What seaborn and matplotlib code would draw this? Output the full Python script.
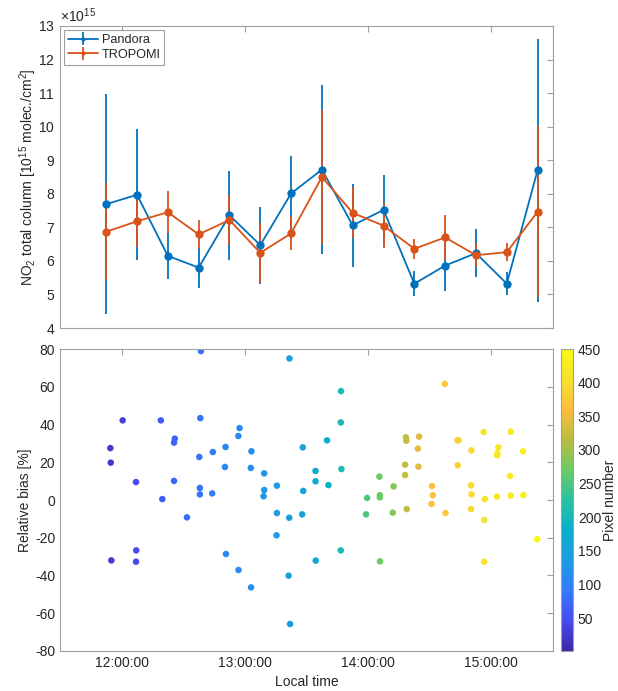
import numpy as np
import pandas as pd
import seaborn as sns
import matplotlib
matplotlib.use("Agg")
from matplotlib import pyplot as plt
import matplotlib.dates as mdates
from matplotlib.colors import LinearSegmentedColormap, Normalize
from matplotlib.ticker import ScalarFormatter

# top panel: means with std (1e15 molec/cm2)
top_times = ["11:52:30", "12:07:30", "12:22:30", "12:37:30", "12:52:30",
             "13:07:30", "13:22:30", "13:37:30", "13:52:30", "14:07:30",
             "14:22:30", "14:37:30", "14:52:30", "15:07:30", "15:22:30"]
pandora = [7.69, 7.97, 6.15, 5.80, 7.36, 6.47, 8.01, 8.72, 7.06, 7.52,
           5.32, 5.86, 6.23, 5.32, 8.70]
pandora_err = [3.27, 1.95, 0.68, 0.60, 1.32, 1.15, 1.13, 2.51, 1.24, 1.05,
               0.38, 0.75, 0.71, 0.35, 3.92]
tropomi = [6.87, 7.18, 7.45, 6.79, 7.22, 6.24, 6.82, 8.50, 7.43, 7.05,
           6.36, 6.70, 6.17, 6.26, 7.46]
tropomi_err = [1.44, 0.77, 0.63, 0.43, 0.75, 0.90, 0.51, 2.00, 0.76, 0.67,
               0.29, 0.66, 0.35, 0.27, 2.55]

# bottom panel: relative bias per pixel
bias_times = ["11:54:30", "11:54:42", "11:55:00", "12:00:30", "12:07:00", "12:07:06", "12:07:00",
              "12:19:06", "12:19:48", "12:25:30", "12:25:54", "12:25:30", "12:31:48",
              "12:37:48", "12:38:18", "12:38:36", "12:38:06", "12:38:06", "12:44:24", "12:44:06",
              "12:50:36", "12:50:18", "12:50:48", "12:56:48", "12:57:24", "12:56:54",
              "13:03:12", "13:02:54", "13:03:00", "13:09:24", "13:09:24", "13:09:06",
              "13:15:36", "13:15:36", "13:15:24", "13:21:42", "13:21:36", "13:21:18", "13:22:00",
              "13:28:12", "13:28:24", "13:27:54", "13:34:24", "13:34:24", "13:34:30",
              "13:40:00", "13:40:42", "13:46:48", "13:46:42", "13:47:00", "13:46:42",
              "13:59:30", "13:59:00", "14:05:30", "14:05:42", "14:05:42", "14:05:48",
              "14:12:24", "14:12:00", "14:18:24", "14:18:36", "14:18:00", "14:18:00", "14:18:48",
              "14:24:48", "14:24:12", "14:24:30", "14:31:06", "14:31:30", "14:30:54",
              "14:37:18", "14:37:42", "14:43:30", "14:44:00", "14:43:36",
              "14:50:18", "14:50:06", "14:50:24", "14:50:06",
              "14:56:12", "14:56:48", "14:56:30", "14:56:30",
              "15:03:24", "15:02:48", "15:02:54", "15:02:42",
              "15:09:24", "15:09:06", "15:09:24", "15:15:24", "15:15:36", "15:22:18"]
bias = [27.5, 19.8, -32.0, 42.2, 9.5, -26.7, -32.7,
        42.2, 0.5, 30.4, 32.5, 10.1, -9.2,
        22.8, 43.4, 78.9, 6.4, 3.0, 25.4, 3.5,
        28.1, 17.5, -28.6, 33.9, 38.1, -37.1,
        25.8, 17.0, -46.3, 14.1, 5.3, 2.0,
        7.6, -6.9, -18.7, 75.0, -9.4, -40.1, -65.7,
        27.9, 4.8, -7.6, 15.4, 9.9, -32.1,
        31.6, 7.9, 57.7, 41.1, 16.4, -26.7,
        1.1, -7.6, 12.4, 2.6, 1.4, -32.5,
        7.2, -6.7, 33.2, 31.4, 18.7, 13.2, -4.8,
        33.6, 27.2, 17.7, 7.4, 2.5, -2.1,
        61.5, -6.9, 31.6, 31.6, 18.4,
        26.3, 7.8, 3.0, -4.8,
        36.0, 0.5, -10.6, -32.7,
        27.9, 23.7, 24.8, 1.8,
        36.2, 12.7, 2.3, 25.8, 2.6, -20.8]
pixel = [25, 25, 27, 35, 45, 45, 45,
         62, 62, 70, 70, 70, 78,
         85, 85, 85, 85, 85, 95, 95,
         105, 105, 105, 112, 112, 112,
         120, 120, 120, 128, 128, 128,
         137, 137, 137, 145, 145, 145, 145,
         155, 155, 155, 168, 168, 168,
         180, 180, 205, 205, 205, 205,
         250, 250, 268, 268, 268, 268,
         285, 285, 320, 320, 320, 320, 320,
         340, 340, 340, 365, 365, 365,
         378, 378, 385, 385, 385,
         396, 396, 396, 396,
         408, 408, 408, 408,
         418, 418, 418, 418,
         425, 425, 425, 432, 432, 445]

day = "2019-06-01 "
top = pd.DataFrame({"time": pd.to_datetime([day + t for t in top_times]),
                    "pandora": np.array(pandora) * 1e15,
                    "pandora_err": np.array(pandora_err) * 1e15,
                    "tropomi": np.array(tropomi) * 1e15,
                    "tropomi_err": np.array(tropomi_err) * 1e15})
bot = pd.DataFrame({"time": pd.to_datetime([day + t for t in bias_times]),
                    "bias": bias, "pixel": pixel})

# parula-like colormap
parula = LinearSegmentedColormap.from_list("parula", [
    (0.2422, 0.1504, 0.6603), (0.2780, 0.2950, 0.9450), (0.2000, 0.4800, 0.9900),
    (0.1150, 0.6100, 0.8900), (0.0250, 0.6900, 0.8000), (0.1600, 0.7600, 0.6300),
    (0.4200, 0.8000, 0.3900), (0.7300, 0.7400, 0.2500), (0.9900, 0.7400, 0.2400),
    (0.9700, 0.8800, 0.1800), (0.9763, 0.9831, 0.0538)])

sns.set_style("white")
plt.rcParams["font.family"] = ["Liberation Sans", "DejaVu Sans"]
plt.rcParams["font.size"] = 10
plt.rcParams["axes.unicode_minus"] = False
plt.rcParams["mathtext.fontset"] = "custom"
plt.rcParams["mathtext.rm"] = "Liberation Sans"
plt.rcParams["mathtext.it"] = "Liberation Sans:italic"

EDGE = "#a0a0a0"
TXT = "#262626"
BLUE = (0, 0.447, 0.741)
ORANGE = (0.85, 0.325, 0.098)

fig = plt.figure(figsize=(6.18, 6.91), dpi=100)
ax1 = fig.add_axes([0.0971, 0.5253, 0.7977, 0.4371])
ax2 = fig.add_axes([0.0971, 0.0579, 0.7977, 0.4370])
cax = fig.add_axes([0.9078, 0.0579, 0.0194, 0.4370])

ax1.errorbar(top["time"], top["pandora"], yerr=top["pandora_err"], fmt="-o",
             color=BLUE, ms=5, lw=1.3, elinewidth=1.3, label="Pandora")
ax1.errorbar(top["time"], top["tropomi"], yerr=top["tropomi_err"], fmt="-o",
             color=ORANGE, ms=5, lw=1.3, elinewidth=1.3, label="TROPOMI")
ax1.set_ylim(4e15, 13e15)
ax1.set_yticks(np.arange(4, 14) * 1e15)
fmt = ScalarFormatter(useMathText=True)
fmt.set_powerlimits((15, 15))
ax1.yaxis.set_major_formatter(fmt)
ax1.set_ylabel(r"NO$_2$ total column [10$^{15}$ molec./cm$^2$]", color=TXT)
ax1.yaxis.set_label_coords(-0.043, 0.5)
leg = ax1.legend(loc="upper left", fancybox=False, framealpha=1, fontsize=9.2,
                 edgecolor=EDGE, borderaxespad=0.35, handlelength=2.3,
                 handletextpad=0.3, borderpad=0.3, labelspacing=0.2, markerscale=0.4)
leg.get_frame().set_linewidth(0.8)

sns.scatterplot(data=bot, x="time", y="bias", hue="pixel", palette=parula,
                hue_norm=(1, 450), s=22, edgecolor="none", legend=False, ax=ax2)
ax2.set_ylim(-80, 80)
ax2.set_yticks(np.arange(-80, 81, 20))
ax2.set_ylabel("Relative bias [%]", color=TXT)
ax2.yaxis.set_label_coords(-0.057, 0.5)
ax2.set_xlabel("Local time", color=TXT)

xmin = pd.Timestamp(day + "11:30:00")
xmax = pd.Timestamp(day + "15:30:00")
hours = pd.to_datetime([day + h for h in ["12:00:00", "13:00:00", "14:00:00", "15:00:00"]])
for ax in (ax1, ax2):
    ax.set_xlim(xmin, xmax)
    ax.set_xticks(hours)
    ax.xaxis.set_major_formatter(mdates.DateFormatter("%H:%M:%S"))
    ax.tick_params(direction="in", top=True, right=True, length=4,
                   color=EDGE, labelcolor=TXT, labelsize=10, width=0.8)
    for s in ax.spines.values():
        s.set_color(EDGE)
        s.set_linewidth(0.8)
ax1.tick_params(labelbottom=False)
ax1.yaxis.get_offset_text().set_color(TXT)

sm = plt.cm.ScalarMappable(norm=Normalize(1, 450), cmap=parula)
cb = fig.colorbar(sm, cax=cax)
cb.set_ticks(np.arange(50, 451, 50))
cb.set_label("Pixel number", color=TXT, labelpad=1)
cb.outline.set_edgecolor(EDGE)
cb.outline.set_linewidth(0.8)
cax.tick_params(direction="in", length=3, color=EDGE, labelcolor=TXT, labelsize=10)

fig.savefig("out.png", dpi=100)
